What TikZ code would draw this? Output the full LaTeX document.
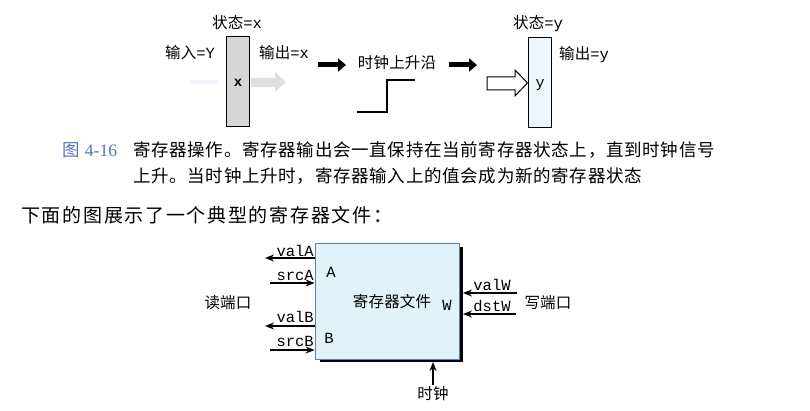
\documentclass[tikz,border=0pt]{standalone}
\usepackage{fontspec}
\usetikzlibrary{arrows.meta, positioning, calc}
\newfontfamily\zhfont[LetterSpace=1]{Noto Sans CJK SC}
\newfontfamily\zhcapfont[LetterSpace=4]{Noto Sans CJK SC}
\newfontfamily\zhtextfont[LetterSpace=9]{Noto Sans CJK SC}
\newfontfamily\ttmono{Liberation Mono}
\newfontfamily\capnum{Liberation Serif}
\definecolor{cRegFill}{RGB}{224,242,250}
\definecolor{cRegLine}{RGB}{84,128,196}
\definecolor{cNewReg}{RGB}{238,246,252}
\definecolor{cOldReg}{RGB}{214,214,214}
\definecolor{cFig}{RGB}{88,118,178}
\tikzset{
	lbl/.style    ={inner sep=0pt, font=\zhfont\fontsize{15.5}{17}\selectfont},
	caption/.style={inner sep=0pt, anchor=west, font=\zhcapfont\fontsize{17.5}{19}\selectfont},
	port/.style   ={inner sep=0pt, font=\ttmono\fontsize{15.5}{17}\selectfont},
	regcell/.style={rectangle, draw=black, line width=1pt, minimum width=23pt, minimum height=90pt},
	regbox/.style ={rectangle, draw=cRegLine, line width=0.8pt, fill=cRegFill, minimum width=144pt, minimum height=116pt},
	sig/.style    ={-{Stealth[length=9pt,width=7pt]}, line width=1.3pt},
	fat/.style    ={-{Triangle[length=8pt,width=13pt]}, line width=5pt},
}
\begin{document}
\begin{tikzpicture}[x=1pt, y=-1pt]
	\useasboundingbox (0,0) rectangle (810,411);
	% register before the clock edge
	\node[regcell, fill=cOldReg] (reg1) at (237.5,82) {};
	\node[lbl] (st1) at (237,23) {状态{\ttmono =x}};
	\node[lbl] (in1) at (190,53) {输入{\ttmono =Y}};
	\node[lbl] (out1) at (284,53) {输出{\ttmono =x}};
	\node[inner sep=0pt, font=\ttmono\bfseries\fontsize{14}{16}\selectfont] (v1) at (238,83) {x};
	% faint ghost arrows round the old register
	\draw[line width=4pt, blue!5] (190,82) -- (218,82);
	\fill[gray!25] (251,78) -- (275,78) -- (275,72) -- (286,82) -- (275,92) -- (275,87) -- (251,87) -- cycle;
	% clock edge
	\coordinate (f1s) at (318,65);
	\coordinate (f1e) at (346,65);
	\draw[fat] (f1s) -- (f1e);
	\node[lbl] (clk) at (397,63) {时钟上升沿};
	\draw[line width=1.2pt] (357,112) -- (387,112) -- (387,80) -- (415,80);
	\coordinate (f2s) at (449,65);
	\coordinate (f2e) at (477,65);
	\draw[fat] (f2s) -- (f2e);
	% register after the clock edge
	\node[regcell, fill=cNewReg] (reg2) at (539.5,83) {};
	\node[lbl] (st2) at (538,24) {状态{\ttmono =y}};
	\node[lbl] (out2) at (584,55) {输出{\ttmono =y}};
	\node[inner sep=0pt, font=\ttmono\fontsize{15}{16}\selectfont] (v2) at (540,85) {y};
	\draw[line width=1pt, fill=white] (487,77) -- (515,77) -- (515,70) -- (reg2.west |- 0,83) -- (515,96) -- (515,90) -- (487,90) -- cycle;
	% caption
	\node[inner sep=0pt, anchor=west, text=cFig, font=\fontsize{17.5}{19}\selectfont] (fig) at (62,150) {{\zhcapfont 图} {\capnum 4-16}};
	\node[caption] (cap1) at (133,150) {寄存器操作。寄存器输出会一直保持在当前寄存器状态上，直到时钟信号};
	\node[caption] (cap2) at (133,176) {上升。当时钟上升时，寄存器输入上的值会成为新的寄存器状态};
	\node[inner sep=0pt, anchor=west, font=\zhtextfont\fontsize{19}{21}\selectfont] (intro) at (21,215) {下面的图展示了一个典型的寄存器文件：};
	% register file
	\fill[black] (320,247) rectangle (463,362);
	\node[regbox] (regfile) at (387,301) {};
	\node[lbl] (rfname) at (392,302) {寄存器文件};
	\node[port] (pa) at (331,272) {A};
	\node[port] (pb) at (329,338) {B};
	\node[port] (pw) at (447,305) {W};
	\node[lbl] (rdport) at (228,303) {读端口};
	\node[lbl] (wrport) at (548,303) {写端口};
	\node[lbl] (clock) at (433,394) {时钟};
	% read ports
	\node[port, anchor=east] (valA) at (314,251) {valA};
	\node[port, anchor=east] (srcA) at (314,275) {srcA};
	\node[port, anchor=east] (valB) at (314,317) {valB};
	\node[port, anchor=east] (srcB) at (314,341) {srcB};
	\coordinate (valAend) at (265,258);
	\coordinate (srcAend) at (270,283);
	\coordinate (valBend) at (265,326);
	\coordinate (srcBend) at (270,350);
	\draw[sig] (regfile.west |- valAend) -- (valAend);
	\draw[sig] (srcAend) -- (regfile.west |- srcAend);
	\draw[sig] (regfile.west |- valBend) -- (valBend);
	\draw[sig] (srcBend) -- (regfile.west |- srcBend);
	% write port
	\node[port] (valW) at (492,285) {valW};
	\node[port] (dstW) at (492,306) {dstW};
	\coordinate (valWend) at (517,293);
	\coordinate (dstWend) at (516,314);
	\draw[sig] (valWend) -- (463,293);
	\draw[sig] (dstWend) -- (463,314);
	\draw[sig] (clock.north) ++(0,-2) coordinate (clkend) (clkend) -- (433,362);
\end{tikzpicture}
\end{document}
